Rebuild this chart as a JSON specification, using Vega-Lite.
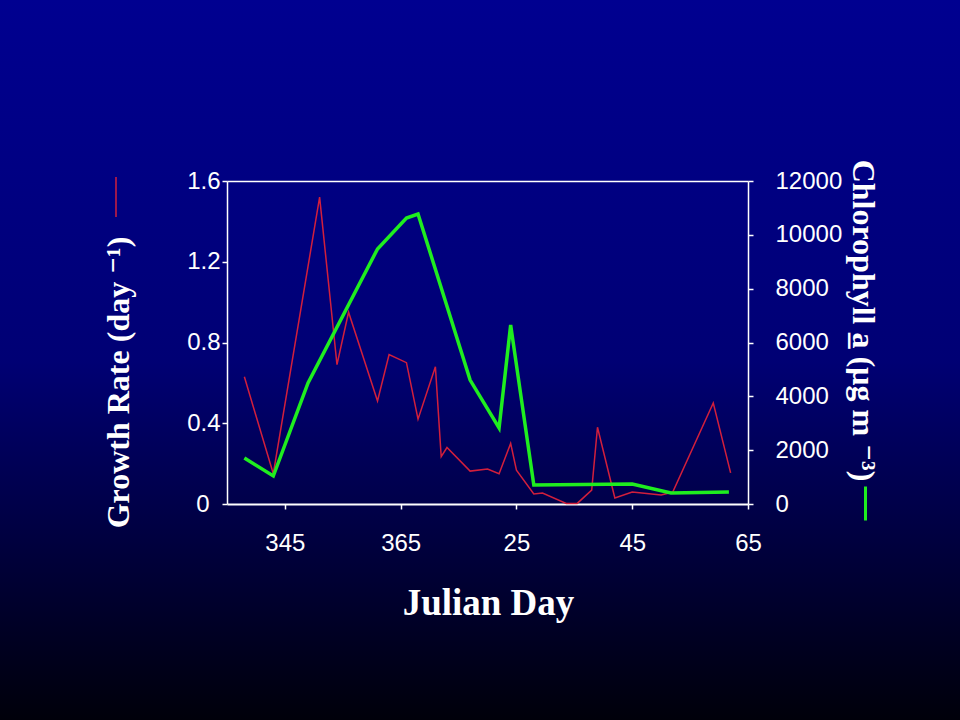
{
  "$schema": "https://vega.github.io/schema/vega-lite/v6.json",
  "width": 960,
  "height": 720,
  "autosize": {"type": "none"},
  "padding": 0,
  "background": "#00004a",
  "view": {
    "stroke": null,
    "fill": {
      "gradient": "linear",
      "x1": 0, "y1": 0, "x2": 0, "y2": 1,
      "stops": [
        {"offset": 0, "color": "#000090"},
        {"offset": 0.5, "color": "#000074"},
        {"offset": 1, "color": "#00000a"}
      ]
    }
  },
  "datasets": {
    "growth": [
      {"day": 338, "rate": 0.63},
      {"day": 343, "rate": 0.15},
      {"day": 351, "rate": 1.52},
      {"day": 354, "rate": 0.69},
      {"day": 356, "rate": 0.95},
      {"day": 361, "rate": 0.51},
      {"day": 363, "rate": 0.74},
      {"day": 366, "rate": 0.70},
      {"day": 368, "rate": 0.42},
      {"day": 371, "rate": 0.68},
      {"day": 372, "rate": 0.235},
      {"day": 373, "rate": 0.28},
      {"day": 377, "rate": 0.163},
      {"day": 380, "rate": 0.173},
      {"day": 382, "rate": 0.15},
      {"day": 384, "rate": 0.30},
      {"day": 385, "rate": 0.168},
      {"day": 388, "rate": 0.05},
      {"day": 389.5, "rate": 0.054},
      {"day": 393.6, "rate": 0.003},
      {"day": 395.5, "rate": 0.003},
      {"day": 398, "rate": 0.069},
      {"day": 399, "rate": 0.38},
      {"day": 402, "rate": 0.03},
      {"day": 405, "rate": 0.059},
      {"day": 410, "rate": 0.045},
      {"day": 412, "rate": 0.059},
      {"day": 419, "rate": 0.50},
      {"day": 422, "rate": 0.154}
    ],
    "chl": [
      {"day": 338, "chla": 1710},
      {"day": 343, "chla": 1040},
      {"day": 349, "chla": 4495},
      {"day": 361, "chla": 9475},
      {"day": 366, "chla": 10625},
      {"day": 368, "chla": 10775},
      {"day": 377, "chla": 4605},
      {"day": 382, "chla": 2825},
      {"day": 384, "chla": 6650},
      {"day": 388, "chla": 706},
      {"day": 405, "chla": 743},
      {"day": 411.7, "chla": 409},
      {"day": 421.7, "chla": 446}
    ]
  },
  "layer": [
    {
      "data": {"name": "growth"},
      "mark": {"type": "line", "color": "#d21f3c", "strokeWidth": 1.5},
      "encoding": {
        "x": {
          "field": "day",
          "type": "quantitative",
          "scale": {"domain": [335, 425], "range": [227, 748], "nice": false, "zero": false},
          "axis": {
            "orient": "bottom",
            "offset": -216,
            "values": [345, 365, 385, 405, 425],
            "labelExpr": "datum.value > 365 ? datum.value - 360 : datum.value",
            "labelFlush": false,
            "labelOverlap": false,
            "grid": false,
            "domainColor": "white",
            "domainWidth": 2,
            "tickColor": "white",
            "tickWidth": 1.5,
            "tickSize": 5,
            "labelColor": "white",
            "labelFont": "Liberation Sans, Arial, sans-serif",
            "labelFontSize": 24,
            "labelPadding": 22,
            "title": "Julian Day",
            "titleColor": "white",
            "titleFont": "Liberation Serif, Times New Roman, serif",
            "titleFontSize": 37,
            "titleFontWeight": "bold",
            "titleX": 488,
            "titleY": 110,
            "titleBaseline": "alphabetic",
            "titleAlign": "center"
          }
        },
        "y": {
          "field": "rate",
          "type": "quantitative",
          "scale": {"domain": [0, 1.6], "range": [504, 181], "nice": false},
          "axis": {
            "orient": "left",
            "offset": -227,
            "values": [0, 0.4, 0.8, 1.2, 1.6],
            "labelExpr": "datum.value == 0 ? '0' : format(datum.value, '.1f')",
            "labelPadding": {"condition": {"test": "datum.value == 0", "value": 13}, "value": 2},
            "labelFlush": false,
            "grid": false,
            "domainColor": "white",
            "domainWidth": 1.5,
            "tickColor": "white",
            "tickWidth": 1.5,
            "tickSize": 5,
            "labelColor": "white",
            "labelFont": "Liberation Sans, Arial, sans-serif",
            "labelFontSize": 24,
            "title": "Growth Rate (day ⁻¹)",
            "titleColor": "white",
            "titleFont": "Liberation Serif, DejaVu Serif, serif",
            "titleFontSize": 32,
            "titleFontWeight": "bold",
            "titleAngle": -90,
            "titleX": -99,
            "titleY": 382,
            "titleBaseline": "alphabetic",
            "titleAlign": "center"
          }
        },
        "color": {
          "datum": "Growth Rate",
          "scale": {"range": ["#d21f3c"]},
          "legend": {
            "orient": "none",
            "legendX": 95,
            "legendY": 176,
            "title": null,
            "padding": 0,
            "labelExpr": "''",
            "labelFontSize": 1,
            "symbolType": "M0,-1L0,1",
            "symbolSize": 1600,
            "symbolStrokeWidth": 1.5,
            "symbolStrokeColor": "#d21f3c"
          }
        }
      }
    },
    {
      "data": {"name": "chl"},
      "mark": {"type": "line", "color": "#1fee1f", "strokeWidth": 3.5},
      "encoding": {
        "x": {
          "field": "day",
          "type": "quantitative",
          "scale": {"domain": [335, 425], "range": [227, 748], "nice": false, "zero": false},
          "axis": {
            "orient": "top",
            "offset": -181,
            "labels": false,
            "ticks": false,
            "grid": false,
            "domainColor": "white",
            "domainWidth": 1.5,
            "title": null
          }
        },
        "y": {
          "field": "chla",
          "type": "quantitative",
          "scale": {"domain": [0, 12000], "range": [504, 181], "nice": false},
          "axis": {
            "orient": "right",
            "offset": -212,
            "values": [0, 2000, 4000, 6000, 8000, 10000, 12000],
            "format": "d",
            "labelFlush": false,
            "grid": false,
            "domainColor": "white",
            "domainWidth": 1.5,
            "tickColor": "white",
            "tickWidth": 1.5,
            "tickSize": 5,
            "labelColor": "white",
            "labelFont": "Liberation Sans, Arial, sans-serif",
            "labelFontSize": 24,
            "labelPadding": 22,
            "labelAlign": "left",
            "title": "Chlorophyll a̲ (µg m ⁻³)",
            "titleColor": "white",
            "titleFont": "Liberation Serif, DejaVu Serif, serif",
            "titleFontSize": 32,
            "titleFontWeight": "bold",
            "titleAngle": 90,
            "titleX": 104,
            "titleY": 320,
            "titleBaseline": "alphabetic",
            "titleAlign": "center"
          }
        },
        "color": {
          "datum": "Chlorophyll a",
          "scale": {"range": ["#1fee1f"]},
          "legend": {
            "orient": "none",
            "legendX": 847,
            "legendY": 485,
            "title": null,
            "padding": 0,
            "labelExpr": "''",
            "labelFontSize": 1,
            "symbolType": "M0,-1L0,1",
            "symbolSize": 1156,
            "symbolStrokeWidth": 3,
            "symbolStrokeColor": "#1fee1f"
          }
        }
      }
    }
  ],
  "resolve": {
    "scale": {"y": "independent", "color": "independent"},
    "axis": {"x": "independent", "y": "independent"}
  }
}
